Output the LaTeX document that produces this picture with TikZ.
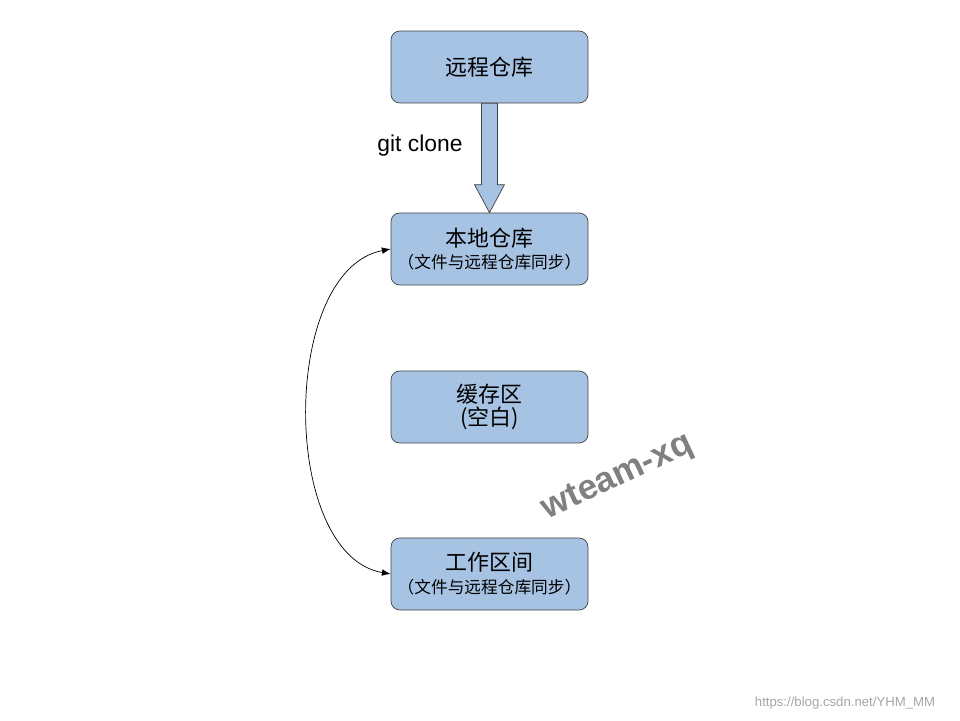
\documentclass[tikz,border=0pt]{standalone}
\usepackage{fontspec}
\setmainfont{Liberation Sans}
\newfontfamily\cjk{Noto Sans CJK SC}
\newcommand\subtext{\cjk\fontsize{9.5}{11}\selectfont}
\usetikzlibrary{calc,arrows.meta}
\definecolor{boxblue}{HTML}{A7C3E3}
\definecolor{boxline}{HTML}{3F3F3F}
\begin{document}
\begin{tikzpicture}[x=0.02cm, y=-0.02cm,
    stage/.style={draw=boxline, fill=boxblue, rounded corners=5pt, minimum width=3.94cm,
        minimum height=1.44cm, align=center, font=\cjk\fontsize{12.5}{15}\selectfont}
]
    % --- Rahmen ---
    \useasboundingbox (0,0) rectangle (960,720);

    % --- Bereiche ---
    \node[stage] (remote) at (489.5,67) {远程仓库};
    \node[stage] (local) at (489.5,249) {本地仓库\\[-2pt]{\subtext （文件与远程仓库同步）}};
    \node[stage] (cache) at (489.5,407) {缓存区\\[-2pt](空白)};
    \node[stage] (work) at (489.5,574) {工作区间\\[-2pt]{\subtext （文件与远程仓库同步）}};

    % --- Pfeile ---
    \draw[boxline, fill=boxblue]
        ($(remote.south)+(-8,0)$) -- ($(remote.south)+(8,0)$) -- ($(local.north)+(8,-28)$)
        -- ($(local.north)+(15,-28)$) -- (local.north) -- ($(local.north)+(-15,-28)$)
        -- ($(local.north)+(-8,-28)$) -- cycle;
    \draw[{Latex[length=5pt]}-{Latex[length=5pt]}] (local.west)
        .. controls (280,270) and (280,555) .. (work.west);

    % --- Beschriftungen ---
    \node[font=\fontsize{13}{15}\selectfont] (clone) at (420,146) {git clone};
    \node[rotate=25, font=\bfseries\fontsize{20}{22}\selectfont, text=gray] (mark) at (618,478) {wteam-xq};
    \node[text=gray!70, font=\fontsize{7.5}{9}\selectfont] (url) at (845,703) {https://blog.csdn.net/YHM\_MM};
\end{tikzpicture}
\end{document}
